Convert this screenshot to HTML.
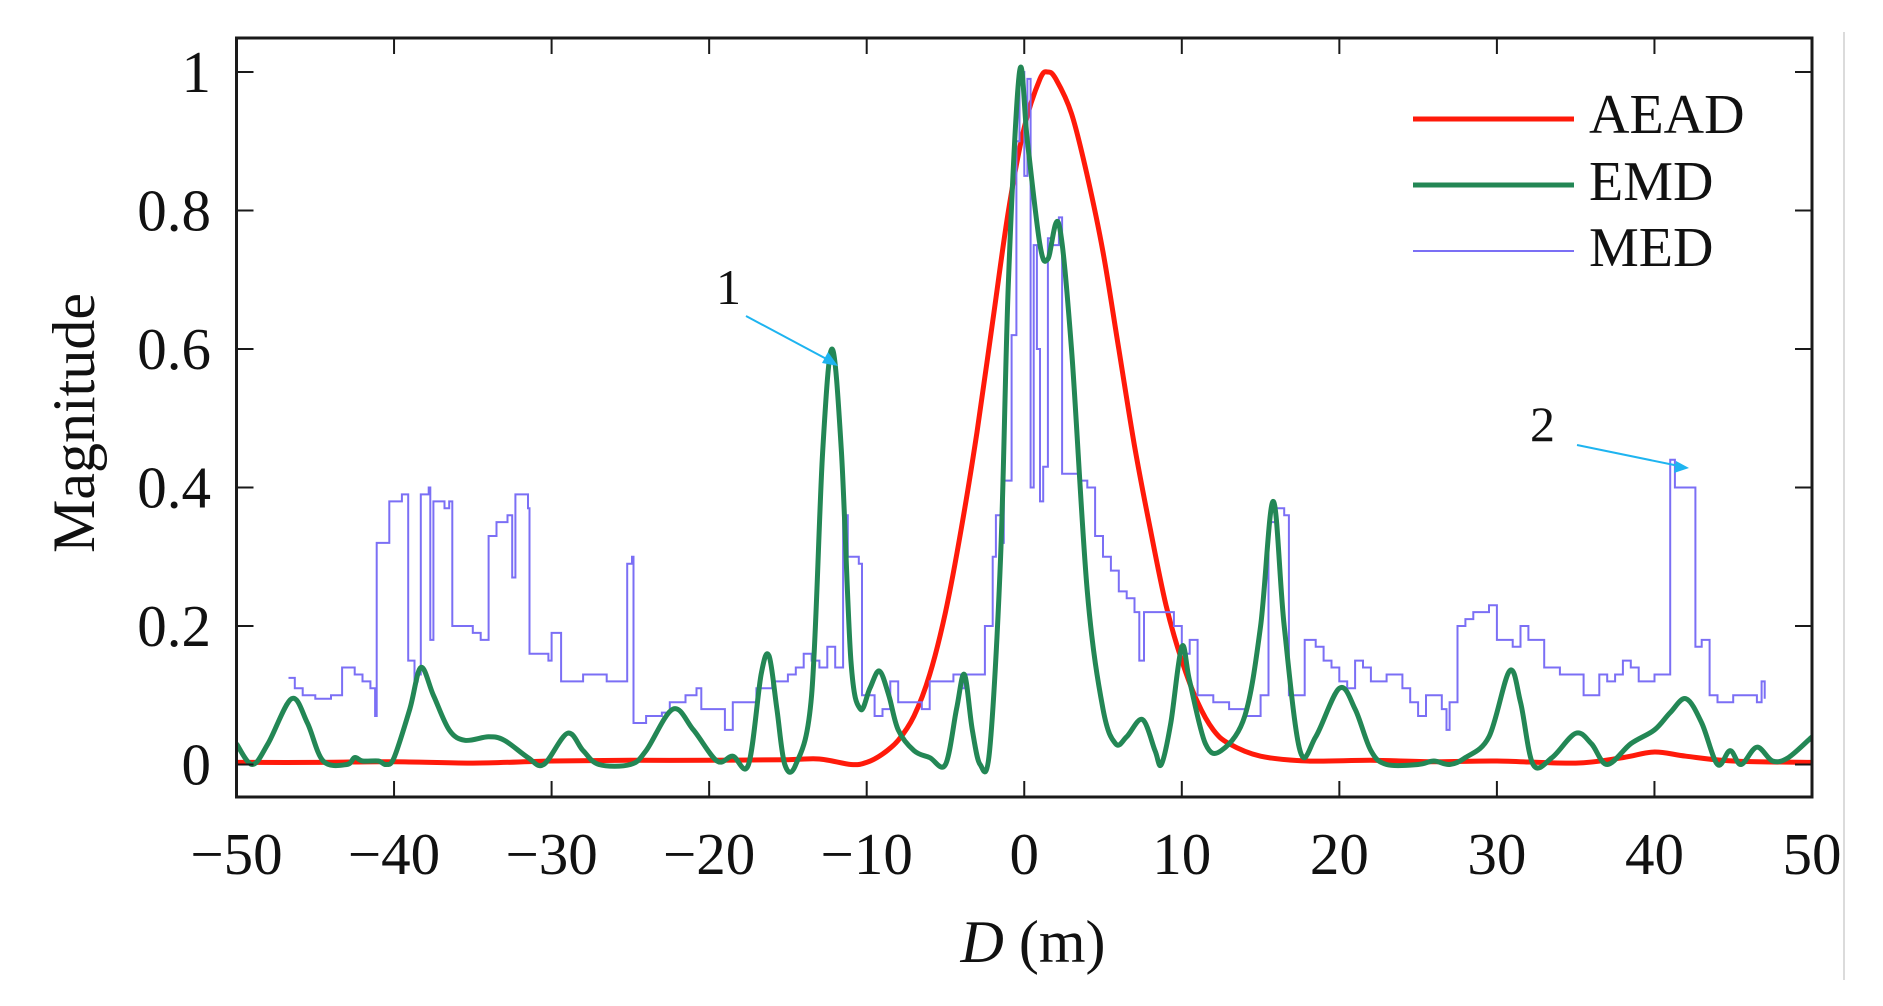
<!DOCTYPE html>
<html><head><meta charset="utf-8">
<style>
html,body{margin:0;padding:0;background:#fff;}
svg{display:block;}
text{font-family:"Liberation Serif",serif;fill:#111;}
</style></head>
<body>
<svg id="chart" width="1883" height="1006" viewBox="0 0 1883 1006" xmlns="http://www.w3.org/2000/svg">
<line x1="1844" y1="32" x2="1844" y2="980" stroke="#cfcfcf" stroke-width="1.5"/>
<g id="plot"></g>
<g id="axes"></g>
<text transform="translate(94,423) rotate(-90)" text-anchor="middle" font-size="60">Magnitude</text>
<text x="1033" y="962" text-anchor="middle" font-size="60"><tspan font-style="italic">D</tspan>  (m)</text>
<g>
<line x1="1413" y1="119" x2="1574" y2="119" stroke="#ff1a0a" stroke-width="5"/>
<text x="1589" y="133" font-size="56">AEAD</text>
<line x1="1413" y1="185" x2="1574" y2="185" stroke="#238755" stroke-width="5"/>
<text x="1589" y="200" font-size="56">EMD</text>
<line x1="1413" y1="251" x2="1574" y2="251" stroke="#7b6ff5" stroke-width="2"/>
<text x="1589" y="266" font-size="56">MED</text>
</g>
<g>
<text x="716" y="304" font-size="50">1</text>
<line x1="746" y1="316" x2="834" y2="363" stroke="#1eb4f0" stroke-width="2"/>
<polygon points="838,366 822,363 828,352" fill="#1eb4f0"/>
<text x="1530" y="441" font-size="50">2</text>
<line x1="1577" y1="445" x2="1684" y2="467" stroke="#1eb4f0" stroke-width="2"/>
<polygon points="1689,468 1674,473 1676,461" fill="#1eb4f0"/>
</g>
</svg>
<script>
const xTicks=[-50,-40,-30,-20,-10,0,10,20,30,40,50];
const xTickLabels=["\u221250","\u221240","\u221230","\u221220","\u221210","0","10","20","30","40","50"];
const yTicks=[0,0.2,0.4,0.6,0.8,1];
const yTickLabels=["0","0.2","0.4","0.6","0.8","1"];
const aeadD=[-50,-45,-40,-35,-30,-25,-20,-15,-13,-11,-10,-9,-8,-7,-6,-5,-4,-3,-2,-1,0,1,1.5,2,3,4,5,6,7,8,9,10,11,12,13,15,18,22,26,30,35,38,40,42,45,50];
const aeadV=[0.003,0.003,0.004,0.002,0.005,0.006,0.006,0.007,0.008,0.0,0.003,0.015,0.035,0.07,0.13,0.22,0.34,0.48,0.64,0.8,0.92,0.99,1.0,0.99,0.94,0.85,0.74,0.6,0.46,0.34,0.23,0.15,0.09,0.05,0.03,0.012,0.005,0.006,0.004,0.005,0.002,0.01,0.018,0.012,0.005,0.003];
const emdD=[-50,-49,-48,-46.5,-45.5,-44.5,-43,-42.5,-42,-41,-40.5,-40,-39,-38.3,-37.5,-36.5,-35.5,-34,-33,-31.5,-30.5,-29,-28,-27,-25,-24,-22.3,-21,-19.5,-18.5,-17.5,-16.7,-16.2,-15.7,-15.2,-14.5,-13.5,-12.8,-12.2,-11.6,-11,-10.4,-9.8,-9.2,-8.6,-8,-7,-6,-5,-4.3,-3.8,-3.3,-2.8,-2.2,-1.5,-1,-0.3,0.2,1,1.5,2.2,3,4,5,5.8,6.5,7.5,8.3,8.7,9.3,10,10.5,11.5,12.5,14,15,15.8,16.5,17.5,18.5,20,21,22,23,25,26,27,28,29.5,30.8,31.5,32.3,33.5,35,36,37,38.5,40,41,42,43,44,44.8,45.5,46.5,47.5,48.5,50];
const emdV=[0.03,0.0,0.03,0.095,0.06,0.005,0.0,0.01,0.005,0.005,0.0,0.01,0.08,0.14,0.1,0.05,0.035,0.04,0.035,0.01,0.0,0.045,0.02,0.0,0.0,0.02,0.08,0.05,0.005,0.012,0.0,0.13,0.157,0.08,0.0,0.0,0.1,0.45,0.6,0.45,0.15,0.08,0.11,0.135,0.1,0.05,0.02,0.01,0.0,0.08,0.13,0.05,0.0,0.02,0.3,0.7,1.0,0.9,0.75,0.73,0.78,0.6,0.25,0.08,0.03,0.04,0.065,0.02,0.0,0.06,0.17,0.12,0.03,0.02,0.07,0.2,0.38,0.2,0.02,0.04,0.11,0.08,0.02,0.0,0.0,0.005,0.0,0.01,0.04,0.135,0.09,0.0,0.01,0.045,0.03,0.0,0.03,0.05,0.075,0.095,0.06,0.0,0.02,0.0,0.025,0.005,0.01,0.04];
const medD=[-46.7,-46.3,-45.8,-45,-44,-43.5,-43.3,-42.5,-42,-41.5,-41.2,-41.1,-40.5,-40.3,-39.5,-39.2,-39.1,-38.7,-38.5,-38.3,-37.8,-37.7,-37.5,-36.8,-36.5,-36.3,-35,-34.5,-34,-33.5,-32.8,-32.5,-32.3,-31.5,-31.4,-30.2,-30,-29.5,-29.4,-28.5,-28,-26.5,-25.5,-25.2,-24.9,-24.8,-24,-23,-22.5,-21.5,-20.8,-20.5,-19.5,-19,-18.5,-17.5,-17,-16,-15,-14.5,-14,-13.5,-13,-12.5,-12,-11.5,-11.2,-10.5,-10.3,-9.5,-9,-8.5,-8,-7.5,-6.5,-6,-5,-4.5,-4,-3.8,-3,-2.5,-2,-1.8,-1.5,-1.3,-0.8,-0.5,-0.3,0,0.2,0.4,0.6,0.8,1,1.2,1.5,1.8,2.2,2.4,3,3.5,4,4.5,5,5.5,6,6.5,7,7.3,7.6,8.5,9.5,10,10.5,11,12,13,14,15,15.5,16,16.5,16.8,17.5,17.8,18.5,19,19.5,20,20.5,21,21.5,22,23,24,24.5,25,25.5,26.5,26.8,27,27.5,28,28.5,29,29.5,30,31,31.5,32,33,34,35,35.5,36,36.5,37,37.5,38,38.5,39,40,40.8,41,41.3,42.5,42.6,43,43.5,44,45,46,46.5,46.8,47];
const medV=[0.125,0.11,0.1,0.095,0.1,0.1,0.14,0.13,0.12,0.11,0.07,0.32,0.32,0.38,0.39,0.39,0.15,0.12,0.13,0.39,0.4,0.18,0.38,0.37,0.38,0.2,0.19,0.18,0.33,0.35,0.36,0.27,0.39,0.37,0.16,0.15,0.19,0.19,0.12,0.12,0.13,0.12,0.12,0.29,0.3,0.06,0.07,0.075,0.09,0.1,0.11,0.08,0.08,0.05,0.09,0.09,0.11,0.12,0.13,0.14,0.16,0.15,0.14,0.17,0.14,0.36,0.3,0.29,0.1,0.07,0.08,0.12,0.09,0.09,0.08,0.12,0.12,0.13,0.11,0.13,0.13,0.2,0.3,0.36,0.32,0.41,0.62,0.9,1.0,0.85,0.99,0.4,0.75,0.6,0.38,0.43,0.76,0.75,0.79,0.42,0.42,0.41,0.4,0.33,0.3,0.28,0.25,0.24,0.22,0.15,0.22,0.22,0.2,0.16,0.18,0.1,0.09,0.08,0.07,0.1,0.35,0.37,0.36,0.1,0.1,0.18,0.17,0.15,0.14,0.12,0.11,0.15,0.14,0.12,0.13,0.11,0.09,0.07,0.1,0.08,0.05,0.09,0.2,0.21,0.22,0.22,0.23,0.18,0.17,0.2,0.18,0.14,0.13,0.13,0.1,0.1,0.13,0.12,0.13,0.15,0.14,0.12,0.13,0.13,0.44,0.4,0.4,0.17,0.18,0.1,0.09,0.1,0.1,0.09,0.12,0.095];

const L=236.5,R=1812,T=38,B=797;
const xMin=-50,xMax=50,y0px=764.5,y1px=72;
function sx(d){return L+(d-xMin)/(xMax-xMin)*(R-L);}
function sy(v){return y0px-v*(y0px-y1px);}
const NS="http://www.w3.org/2000/svg";
const plot=document.getElementById('plot'),axes=document.getElementById('axes');
function smoothPath(xs,ys){
  const p=xs.map((d,i)=>[sx(d),sy(ys[i])]);
  let s="M"+p[0][0].toFixed(1)+","+p[0][1].toFixed(1);
  for(let i=0;i<p.length-1;i++){
    const a=p[Math.max(0,i-1)],b=p[i],c=p[i+1],e=p[Math.min(p.length-1,i+2)];
    const c1=[b[0]+(c[0]-a[0])/6,b[1]+(c[1]-a[1])/6],c2=[c[0]-(e[0]-b[0])/6,c[1]-(e[1]-b[1])/6];
    s+="C"+c1[0].toFixed(1)+","+c1[1].toFixed(1)+" "+c2[0].toFixed(1)+","+c2[1].toFixed(1)+" "+c[0].toFixed(1)+","+c[1].toFixed(1);
  }
  return s;
}
function stepPath(xs,ys){
  let s="M"+sx(xs[0]).toFixed(1)+","+sy(ys[0]).toFixed(1);
  for(let i=1;i<xs.length;i++){s+="H"+sx(xs[i]).toFixed(1)+"V"+sy(ys[i]).toFixed(1);}
  return s;
}
const clip=document.createElementNS(NS,'clipPath');clip.setAttribute('id','cp');
const cr=document.createElementNS(NS,'rect');cr.setAttribute('x',L);cr.setAttribute('y',T);cr.setAttribute('width',R-L);cr.setAttribute('height',B-T);
clip.appendChild(cr);plot.appendChild(clip);plot.setAttribute('clip-path','url(#cp)');

const pa=document.createElementNS(NS,'path');


pa.setAttribute('d',smoothPath(aeadD,aeadV));pa.setAttribute('fill','none');pa.setAttribute('stroke','#ff1a0a');pa.setAttribute('stroke-width','5');
plot.appendChild(pa);
const pm=document.createElementNS(NS,'path');


pm.setAttribute('d',stepPath(medD,medV));pm.setAttribute('fill','none');pm.setAttribute('stroke','#7b6ff5');pm.setAttribute('stroke-width','2');
plot.appendChild(pm);
const pe=document.createElementNS(NS,'path');


pe.setAttribute('d',smoothPath(emdD,emdV));pe.setAttribute('fill','none');pe.setAttribute('stroke','#238755');pe.setAttribute('stroke-width','5');
plot.appendChild(pe);

const box=document.createElementNS(NS,'rect');


box.setAttribute('x',L);box.setAttribute('y',T);box.setAttribute('width',R-L);box.setAttribute('height',B-T);
box.setAttribute('fill','none');box.setAttribute('stroke','#1a1a1a');box.setAttribute('stroke-width','3');
axes.appendChild(box);
xTicks.forEach((t,i)=>{
  const x=sx(t);
  [[B,B-16],[T,T+16]].forEach(([a,b])=>{
    const l=document.createElementNS(NS,'line');
    
    
    l.setAttribute('x1',x);l.setAttribute('x2',x);l.setAttribute('y1',a);l.setAttribute('y2',b);l.setAttribute('stroke','#1a1a1a');l.setAttribute('stroke-width','2');
    axes.appendChild(l);
  });
  const tx=document.createElementNS(NS,'text');
  
  
  tx.setAttribute('x',x);tx.setAttribute('y',874);tx.setAttribute('text-anchor','middle');tx.setAttribute('font-size','59');
  tx.textContent=xTickLabels[i];axes.appendChild(tx);
});
yTicks.forEach((t,i)=>{
  const y=sy(t);
  [[L,L+17],[R,R-17]].forEach(([a,b])=>{
    const l=document.createElementNS(NS,'line');
    
    
    l.setAttribute('x1',a);l.setAttribute('x2',b);l.setAttribute('y1',y);l.setAttribute('y2',y);l.setAttribute('stroke','#1a1a1a');l.setAttribute('stroke-width','2');
    axes.appendChild(l);
  });
  const tx=document.createElementNS(NS,'text');
  
  
  tx.setAttribute('x',211);tx.setAttribute('y',y+20);tx.setAttribute('text-anchor','end');tx.setAttribute('font-size','59');
  tx.textContent=yTickLabels[i];axes.appendChild(tx);
});
</script>
</body></html>
